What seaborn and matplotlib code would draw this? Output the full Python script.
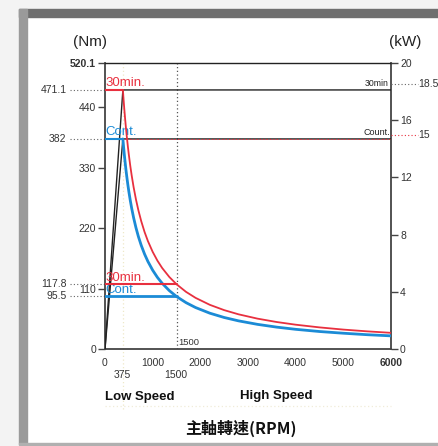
import numpy as np
import pandas as pd
import seaborn as sns
import matplotlib.pyplot as plt
from matplotlib.patches import Rectangle

# torque curves (Nm)
rpm = [375, 390, 405, 420, 440, 460, 480, 500, 530, 560, 600, 650, 700, 760, 830, 900, 1000,
       1100, 1200, 1350, 1500, 1700, 1900, 2200, 2500, 2800, 3200, 3600, 4000, 4500, 5000, 5500, 6000]
torque_30min = [471.1, 453.0, 436.2, 420.6, 401.5, 384.1, 368.0, 353.3, 333.3, 315.5, 294.4, 271.8,
                252.4, 232.5, 212.8, 196.3, 176.7, 160.6, 147.2, 130.9, 117.8, 103.9, 93.0, 80.3,
                70.7, 63.1, 55.2, 49.1, 44.2, 39.3, 35.3, 32.1, 29.4]
torque_cont = [382.0, 367.3, 353.7, 341.1, 325.6, 311.4, 298.4, 286.5, 270.3, 255.8, 238.8, 220.4,
               204.6, 188.5, 172.6, 159.2, 143.3, 130.2, 119.4, 106.1, 95.5, 84.3, 75.4, 65.1,
               57.3, 51.2, 44.8, 39.8, 35.8, 31.8, 28.7, 26.0, 23.9]

# power lines (drawn on the Nm scale)
power_rpm = [0, 375, 6000]
power_30min = [0, 471.1, 471.1]
power_cont = [0, 382.0, 382.0]

base_speed = 375
switch_speed = 1500
low_30min, low_cont = 117.8, 95.5
peak_30min, peak_cont = 471.1, 382.0

left_ticks = [0, 110, 220, 330, 440, 520.1]
left_ticklabels = ["0", "110", "220", "330", "440", "520.1"]
right_ticks = [0, 4, 8, 12, 16, 20]
x_ticks = [0, 1000, 2000, 3000, 4000, 5000, 6000]

RED = "#e8303f"
BLUE = "#1b8bd6"
DARK = "#222222"
GRAY = "#444444"
TXT = "#333333"
FS = 7.5

sns.set_style("white")
plt.rcParams["font.family"] = ["Liberation Sans", "DejaVu Sans"]

fig = plt.figure(figsize=(4.38, 4.46), dpi=100)
fig.patch.set_facecolor("#f3f3f3")
W, H = 438, 446


def px_rect(x0, y0, x1, y1, color):
    fig.patches.append(Rectangle((x0 / W, 1 - y1 / H), (x1 - x0) / W, (y1 - y0) / H,
                                 transform=fig.transFigure, color=color, zorder=-10))


px_rect(27, 17, 438, 443, "white")
px_rect(19, 9, 438, 17, "#6f6f6f")
px_rect(19, 9, 27, 444, "#9a9a9a")
px_rect(19, 443, 438, 445, "#b0b0b0")

ax = fig.add_axes([105 / W, 1 - 349 / H, (391 - 105) / W, (349 - 63) / H])
ax.set_facecolor("none")

df = pd.DataFrame({"rpm": rpm * 2,
                   "torque": torque_30min + torque_cont,
                   "mode": ["30min"] * len(rpm) + ["Cont"] * len(rpm)})
sns.lineplot(data=df[df["mode"] == "30min"], x="rpm", y="torque", color=RED, lw=1.3, ax=ax, zorder=4)
sns.lineplot(data=df[df["mode"] == "Cont"], x="rpm", y="torque", color=BLUE, lw=2.0, ax=ax, zorder=4)

# black power lines
ax.plot(power_rpm, power_30min, color=DARK, lw=1.0, zorder=3)
ax.plot(power_rpm, power_cont, color=DARK, lw=1.0, zorder=3)
ax.plot([base_speed, 6000], [peak_cont, peak_cont], color=RED, lw=0.7, ls=(0, (1.5, 2)), zorder=3.5)

# short horizontal torque segments
ax.plot([0, base_speed], [peak_30min, peak_30min], color=RED, lw=1.5, zorder=5)
ax.plot([0, base_speed], [peak_cont, peak_cont], color=BLUE, lw=1.5, zorder=5)
ax.plot([0, switch_speed], [low_30min, low_30min], color=RED, lw=1.5, zorder=5)
ax.plot([0, switch_speed], [low_cont, low_cont], color=BLUE, lw=2.0, zorder=5)

ax.text(15, peak_30min + 2, "30min.", color=RED, fontsize=9.5, va="bottom", ha="left")
ax.text(15, peak_cont + 2, "Cont.", color=BLUE, fontsize=9.5, va="bottom", ha="left")
ax.text(15, low_30min + 1, "30min.", color=RED, fontsize=9.5, va="bottom", ha="left")
ax.text(15, low_cont + 1, "Cont.", color=BLUE, fontsize=9.5, va="bottom", ha="left")
ax.text(5940, peak_30min + 4, "30min", color=DARK, fontsize=6.3, va="bottom", ha="right")
ax.text(5990, peak_cont + 4, "Count.", color=DARK, fontsize=6.5, va="bottom", ha="right")

# vertical guide lines
ax.axvline(switch_speed, color="#555555", lw=0.9, ls=(0, (1, 2)), zorder=2)
ax.plot([base_speed, base_speed], [-110, 520.1], color="#eee8c8", lw=0.9, ls=(0, (1, 2)),
        zorder=1, clip_on=False)
ax.plot([0, 6000], [-103, -103], color="#f0ecd8", lw=0.9, ls=(0, (1, 2)), zorder=1, clip_on=False)
ax.text(switch_speed + 40, 4, "1500", fontsize=6.8, color=TXT, va="bottom", ha="left")

ax.set_xlim(0, 6000)
ax.set_ylim(0, 520.1)
ax.set_xticks(x_ticks)
ax.set_xticklabels([str(v) for v in x_ticks], fontsize=FS, color=TXT)
ax.set_yticks(left_ticks)
ax.set_yticklabels(left_ticklabels, fontsize=FS, color=TXT)
ax.tick_params(axis="both", direction="out", length=5, width=1, color=GRAY, pad=1.5)
ax.get_yticklabels()[-1].set_fontweight("bold")
ax.get_xticklabels()[-1].set_fontweight("bold")
ax.set_xlabel("")
ax.set_ylabel("")
for side in ["left", "bottom", "right"]:
    ax.spines[side].set_color(GRAY)
    ax.spines[side].set_linewidth(1.3)
ax.spines["top"].set_color(DARK)
ax.spines["top"].set_linewidth(1.0)

# left side leaders
for val, lab in [(peak_30min, "471.1"), (peak_cont, "382"), (low_30min, "117.8"), (low_cont, "95.5")]:
    ax.plot([-740, 0], [val, val], color="#666666", lw=0.8, ls=(0, (1, 2)), clip_on=False, zorder=2)
    ax.text(-810, val, lab, fontsize=FS, color=TXT, ha="right", va="center", clip_on=False)

ax2 = ax.twinx()
ax2.set_ylim(0, 20)
ax2.set_yticks(right_ticks)
ax2.set_yticklabels([str(v) for v in right_ticks], fontsize=FS, color=TXT)
ax2.tick_params(axis="y", direction="out", length=5, width=1, color=GRAY, pad=1.5)
for side in ["left", "bottom", "right", "top"]:
    ax2.spines[side].set_visible(False)
ax2.grid(False)

# right side leaders
ax2.plot([6000, 6560], [18.5, 18.5], color="#666666", lw=0.8, ls=(0, (1, 2)), clip_on=False)
ax2.text(6580, 18.5, "18.5", fontsize=FS, color=TXT, ha="left", va="center", clip_on=False)
ax2.plot([6000, 6560], [15, 15], color=RED, lw=0.8, ls=(0, (1, 2)), clip_on=False)
ax2.text(6580, 15, "15", fontsize=FS, color=TXT, ha="left", va="center", clip_on=False)

# units and bottom labels
fig.text(90 / W, 1 - 42 / H, "(Nm)", fontsize=11, color="#222222", ha="center", va="center")
fig.text(405 / W, 1 - 42 / H, "(kW)", fontsize=11, color="#222222", ha="center", va="center")
fig.text(122 / W, 1 - 375 / H, "375", fontsize=FS, color=TXT, ha="center", va="center")
fig.text(176 / W, 1 - 375 / H, "1500", fontsize=FS, color=TXT, ha="center", va="center")
fig.text(140 / W, 1 - 397 / H, "Low Speed", fontsize=9.5, fontweight="bold", color="#111111",
         ha="center", va="center")
fig.text(276 / W, 1 - 396 / H, "High Speed", fontsize=9.5, fontweight="bold", color="#111111",
         ha="center", va="center")
fig.text(241 / W, 1 - 428 / H, "主軸轉速(RPM)", fontsize=11.5, fontweight="bold", color="#111111",
         ha="center", va="center", family=["Noto Sans CJK TC", "DejaVu Sans"])

fig.savefig("out.png", dpi=100, facecolor=fig.get_facecolor())
